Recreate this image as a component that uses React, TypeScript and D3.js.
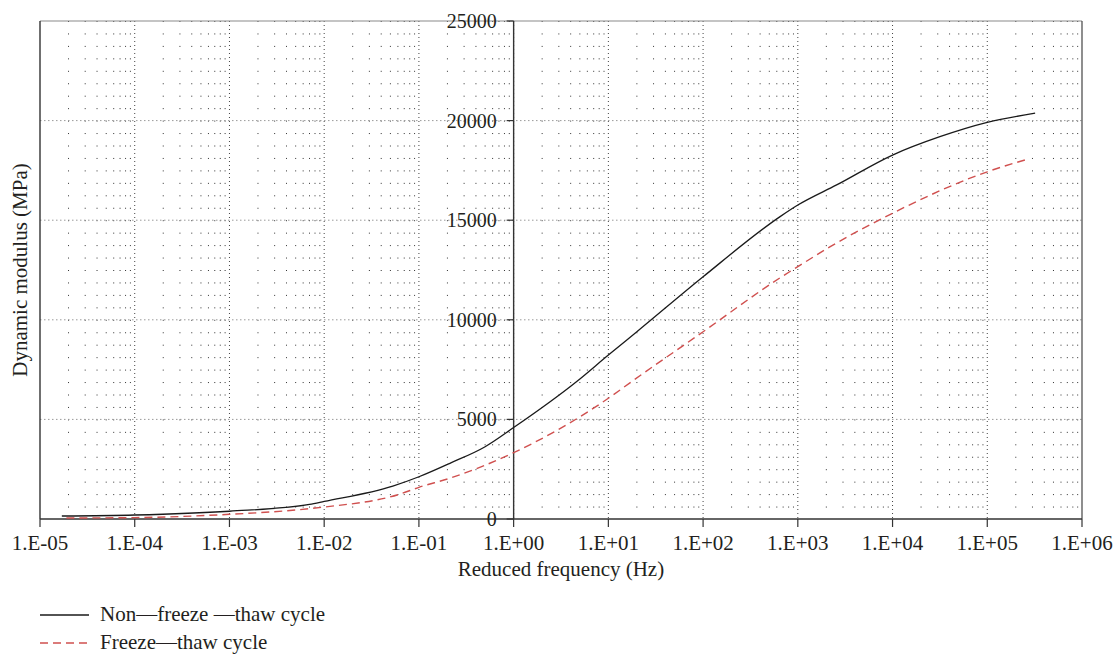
import React from "react";
import * as d3 from "d3";

const freqNon = [1.7e-5, 1e-4, 1e-3, 7e-3, 1e-2, 0.053, 0.1, 0.22, 0.5, 1, 4.6, 10, 20, 100, 650, 1000, 2570, 1e4, 3.16e4, 1e5, 3.2e5];
const modNon = [150, 200, 390, 730, 880, 1650, 2120, 2830, 3630, 4590, 6890, 8230, 9400, 12160, 15180, 15760, 16770, 18270, 19190, 19910, 20370];

const freqFr = [1.9e-5, 1e-4, 1e-3, 5.5e-3, 1e-2, 0.063, 0.1, 0.21, 1, 10, 18, 100, 650, 1000, 2200, 1e4, 1e5, 2.7e5];
const modFr = [50, 70, 235, 470, 600, 1250, 1590, 2040, 3330, 6060, 6930, 9400, 12110, 12670, 13670, 15350, 17430, 18070];

const xTickLabels = ["1.E-05", "1.E-04", "1.E-03", "1.E-02", "1.E-01", "1.E+00", "1.E+01", "1.E+02", "1.E+03", "1.E+04", "1.E+05", "1.E+06"];
const yTicks = [0, 5000, 10000, 15000, 20000, 25000];
const seriesNames = ["Non\u2014freeze \u2014thaw cycle", "Freeze\u2014thaw cycle"];

const W = 1116, H = 654;
const L = 40, R = 1082, T = 21, B = 519;
const FONT = "'Liberation Serif', 'Times New Roman', serif";
const TXT = "#231f20";

export default function App() {
  const x = d3.scaleLog().domain([1e-5, 1e6]).range([L, R]);
  const y = d3.scaleLinear().domain([0, 25000]).range([B, T]);
  const decades = d3.range(-5, 7).map((e) => Math.pow(10, e));
  const minors: number[] = [];
  for (let e = -5; e < 6; e++) for (let k = 2; k <= 9; k++) minors.push(k * Math.pow(10, e));
  const line = d3.line<[number, number]>().x((d) => x(d[0])).y((d) => y(d[1])).curve(d3.curveMonotoneX);
  const nonPts = freqNon.map((f, i) => [f, modNon[i]] as [number, number]);
  const frPts = freqFr.map((f, i) => [f, modFr[i]] as [number, number]);
  const yAxisX = x(1);

  return (
    <svg width={W} height={H} style={{ display: "block", position: "absolute", left: 0, top: 0, background: "#fff" }} fontFamily={FONT}>
      {minors.map((m, i) => (
        <line key={"m" + i} x1={x(m)} x2={x(m)} y1={T} y2={B} stroke="#333" strokeWidth={1} strokeDasharray="1,11.45" />
      ))}
      {decades.slice(1, -1).map((d, i) => (
        <line key={"d" + i} x1={x(d)} x2={x(d)} y1={T} y2={B} stroke="#444" strokeWidth={1} strokeDasharray="1,3" />
      ))}
      {yTicks.slice(1, -1).map((v, i) => (
        <line key={"h" + i} x1={L} x2={R} y1={y(v)} y2={y(v)} stroke="#9a9a9a" strokeWidth={1} strokeDasharray="1.5,2.5" />
      ))}
      <line x1={L} x2={R} y1={T} y2={T} stroke="#8a8a8a" strokeWidth={1.2} />
      <line x1={R} x2={R} y1={T} y2={B} stroke="#444" strokeWidth={1.2} />
      <line x1={L} x2={L} y1={T} y2={B} stroke="#333" strokeWidth={1.4} />
      <line x1={L} x2={R} y1={B} y2={B} stroke="#333" strokeWidth={1.4} />
      {decades.map((d, i) => (
        <g key={"xt" + i}>
          <line x1={x(d)} x2={x(d)} y1={B} y2={B + 8} stroke="#333" strokeWidth={1.2} />
          <text x={x(d)} y={550} textAnchor="middle" fontSize={21} fill={TXT}>{xTickLabels[i]}</text>
        </g>
      ))}
      <line x1={yAxisX} x2={yAxisX} y1={T} y2={B} stroke="#333" strokeWidth={1.4} />
      {yTicks.map((v, i) => (
        <g key={"yt" + i}>
          <line x1={yAxisX - 7} x2={yAxisX} y1={y(v)} y2={y(v)} stroke="#333" strokeWidth={1.2} />
          <text x={yAxisX - 17} y={y(v) + 7} textAnchor="end" fontSize={20} fill={TXT}>{v}</text>
        </g>
      ))}
      <path d={line(frPts) || ""} fill="none" stroke="#d0504f" strokeWidth={1.4} strokeDasharray="8,5" />
      <path d={line(nonPts) || ""} fill="none" stroke="#1a1a1a" strokeWidth={1.3} />
      <text x={(L + R) / 2} y={576} textAnchor="middle" fontSize={21} fill={TXT}>Reduced frequency (Hz)</text>
      <text transform={`translate(27,${(T + B) / 2}) rotate(-90)`} textAnchor="middle" fontSize={21} fill={TXT}>Dynamic modulus (MPa)</text>
      <line x1={40} x2={89} y1={615} y2={615} stroke="#1a1a1a" strokeWidth={1.3} />
      <text x={100} y={621} fontSize={21} fill={TXT}>{seriesNames[0]}</text>
      <line x1={40} x2={89} y1={643} y2={643} stroke="#d0504f" strokeWidth={1.4} strokeDasharray="8,5" />
      <text x={100} y={649} fontSize={21} fill={TXT}>{seriesNames[1]}</text>
    </svg>
  );
}
